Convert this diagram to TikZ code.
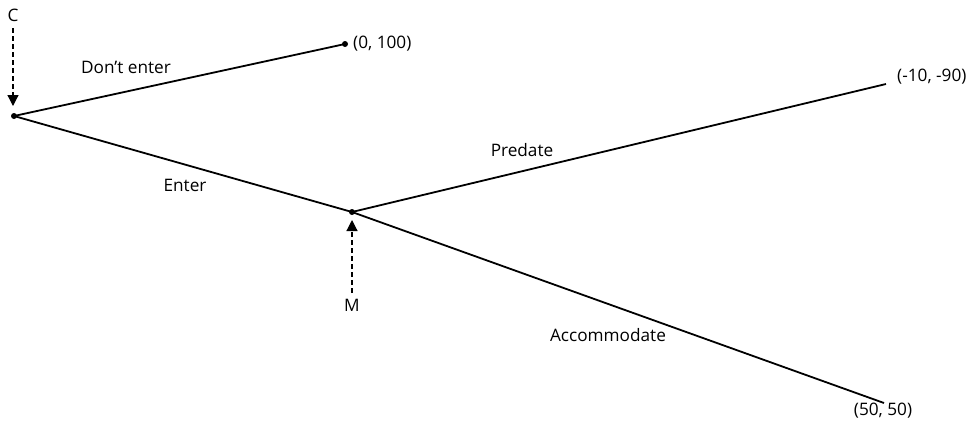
\documentclass[tikz,border=0pt]{standalone}
\usepackage{fontspec}
\setmainfont{Open Sans}
\usetikzlibrary{arrows.meta}
\begin{document}
\begin{tikzpicture}[x=1pt,y=-1pt,
  dotnode/.style={circle,fill=black,inner sep=0pt,minimum size=6pt},
  branch/.style={line width=1.8pt},
  pointer/.style={line width=1.2pt,dashed,dash pattern=on 5pt off 3pt,-{Triangle[length=11pt,width=11pt]}},
  lbl/.style={font=\fontsize{17.2}{20}\selectfont,inner sep=0pt}]
\useasboundingbox (0,0) rectangle (976,424);
\node[dotnode] (c) at (14,116) {};
\node[dotnode] (dn) at (345,44) {};
\node[dotnode] (m) at (352,212) {};
\coordinate (pr) at (886,84);
\coordinate (ac) at (884,403);
\draw[branch] (c.center) -- (dn.center);
\draw[branch] (c.center) -- (m.center);
\draw[branch] (m.center) -- (pr);
\draw[branch] (m.center) -- (ac);
\node[lbl,anchor=west] (p1) at (353,44) {(0, 100)};
\node[lbl,anchor=west] (p2) at (897,77) {(-10, -90)};
\node[lbl] (p3) at (883,411) {(50, 50)};
\node[lbl] (l1) at (126,67) {Don’t enter};
\node[lbl] (l2) at (185,185) {Enter};
\node[lbl] (l3) at (522,150) {Predate};
\node[lbl] (l4) at (608,335) {Accommodate};
\node[lbl] (cl) at (13,15) {C};
\node[lbl] (ml) at (352,305) {M};
\coordinate (ctip) at (13,106);
\coordinate (mtip) at (352,220);
\draw[pointer] (13,28) -- (ctip);
\draw[pointer] (352,293) -- (mtip);
\end{tikzpicture}
\end{document}
